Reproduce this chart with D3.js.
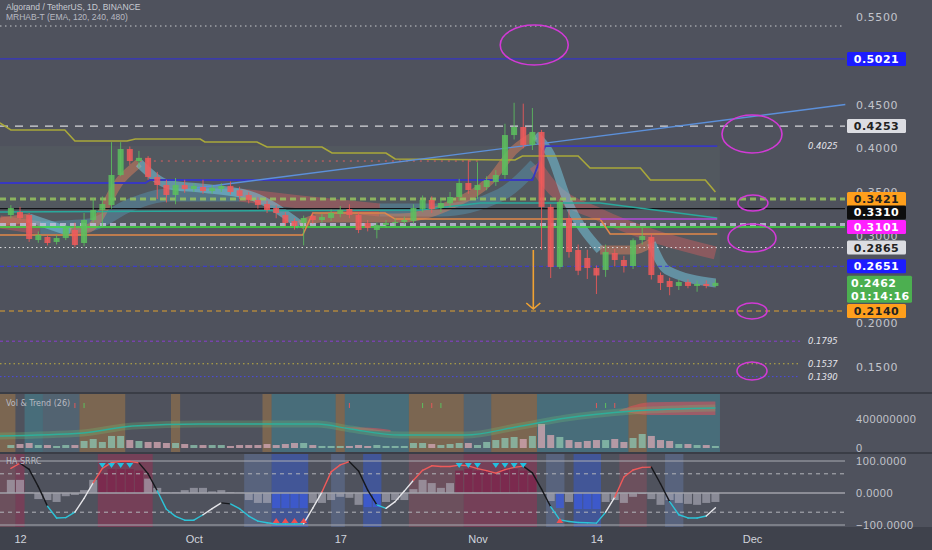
<!DOCTYPE html>
<html><head><meta charset="utf-8">
<script src="https://cdn.jsdelivr.net/npm/d3@7/dist/d3.min.js"></script>
<style>
html,body{margin:0;padding:0;background:#4f525d;overflow:hidden}
svg{display:block;font-family:"DejaVu Sans",sans-serif}
</style></head><body>
<svg id="chart" width="932" height="550"></svg>
<script>
// ---------------- DATA ----------------
const open  = [.3237,.3271,.3237,.2951,.2986,.2929,.2974,.3066,.2917,.318,.3294,.3351,.3694,.3991,.3854,.389,.3671,.358,.3466,.358,.3534,.3557,.3511,.3534,.3569,.352,.3466,.3409,.3363,.3317,.3237,.3169,.3146,.3226,.318,.3203,.3249,.3306,.3237,.3146,.3066,.3123,.3146,.3157,.3169,.3306,.3409,.3317,.3371,.3443,.3603,.3523,.3557,.3614,.3694,.4151,.4243,.4037,.4186,.3329,.2643,.3203,.2837,.2746,.2631,.2609,.2803,.2723,.2654,.2951,.2986,.2551,.2483,.2426,.2471,.2426,.2449,.2426];
const high  = [.335,.333,.326,.305,.301,.301,.312,.315,.326,.343,.345,.407,.407,.402,.397,.391,.373,.364,.366,.364,.36,.364,.358,.36,.362,.356,.35,.344,.34,.335,.327,.32,.323,.326,.325,.33,.334,.336,.327,.318,.315,.318,.32,.322,.336,.346,.345,.343,.35,.365,.387,.384,.368,.375,.428,.452,.451,.446,.421,.336,.342,.33,.29,.284,.266,.29,.285,.277,.297,.309,.302,.258,.252,.25,.25,.249,.249,.25];
const low   = [.320,.318,.293,.292,.289,.290,.295,.287,.288,.315,.31,.331,.368,.381,.378,.364,.342,.338,.336,.349,.35,.348,.348,.35,.347,.342,.337,.331,.326,.32,.311,.307,.289,.314,.315,.317,.321,.32,.303,.305,.297,.309,.311,.313,.314,.327,.326,.327,.333,.34,.348,.342,.352,.357,.365,.41,.40,.398,.284,.2517,.262,.275,.255,.2506,.2334,.253,.265,.258,.262,.29,.25,.238,.232,.238,.24,.236,.24,.241];
const close = [.3317,.3203,.2963,.3009,.2917,.2974,.3089,.2894,.318,.3294,.3363,.3694,.3991,.3854,.389,.3671,.358,.3466,.358,.3534,.3569,.3511,.3546,.3569,.35,.3454,.3409,.3351,.3294,.326,.3146,.3111,.3203,.318,.3214,.326,.3294,.3237,.3066,.3089,.3123,.3146,.3157,.318,.3317,.3409,.3306,.3374,.3443,.3603,.3523,.358,.3637,.3694,.4151,.4243,.4037,.4186,.3329,.2643,.3386,.2814,.26,.2631,.2546,.2814,.2723,.2654,.2949,.2997,.2551,.246,.2414,.2471,.2426,.2449,.2426,.2462];
// volume in millions
const volumeM = [41,55,69,41,41,28,41,41,97,124,83,166,166,110,97,83,83,69,69,55,41,41,41,41,28,41,41,41,55,41,55,69,69,41,28,28,28,28,41,28,41,28,28,28,69,69,55,41,55,69,69,41,83,110,138,152,124,166,331,179,152,110,83,97,110,110,124,83,138,193,166,110,97,55,55,41,41,28];
const oscLine = [77,93,74,20,-41,-78,-77,-60,-17,32,77,95,99,99,94,60,7,-51,-73,-85,-85,-68,-49,-31,-34,-49,-72,-88,-93,-97,-97,-97,-96,-47,3,66,88,98,69,9,-37,-48,-27,6,40,71,85,83,83,87,85,76,70,62,73,80,84,63,12,-43,-84,-89,-92,-93,-94,-60,-13,50,72,80,81,29,-27,-68,-78,-78,-72,-46];
const oscHist = [41,41,2,-19,-22,-28,-10,-6,9,41,60,75,75,75,70,45,16,2,2,9,16,16,5,9,3,1,-22,-31,-31,-47,-47,-47,-47,-31,-31,-22,-12,-15,-37,-44,-44,-28,-22,-22,12,41,31,16,31,70,75,70,70,60,75,75,70,55,-3,-25,-47,-28,-50,-50,-50,-28,-22,-31,-12,-3,-19,-37,-22,-31,-34,-37,-31,-28];

// indicator lines: [candle index, price]
const oliveLine  = [[-1.2,.4289],[0,.4209],[5.9,.4209],[7,.4083],[12.7,.4083],[13.6,.4106],[20.7,.4106],[21.2,.4071],[26.9,.4071],[28,.4014],[34,.4014],[35.1,.3946],[41,.3946],[42,.3877],[55.1,.3866],[55.9,.3911],[62,.3911],[63.3,.3774],[68.8,.3774],[69.9,.3637],[75.9,.3637],[77,.35]];
const navyLine   = [[-1.2,.3603],[14.7,.3603],[15.2,.3637],[57,.3637],[57.9,.3889],[58.4,.4025],[77.2,.4025]];
const tealLine   = [[-1.2,.3271],[44.7,.3294],[51.3,.3374],[64.4,.3374],[77.2,.3203]];
const orangeLine = [[-1.2,.3009],[31.9,.3009],[33,.326],[40.9,.326],[42,.3191],[64.4,.3191],[65.5,.302],[77.2,.302]];
const purpleLine = [[64.4,.3191],[77.2,.3191]];
const redDotLine = [[14.1,.3854],[51.3,.3854]];
const trendLine  = [[20.2,.3546],[91.2,.45]];
const ribbonFast = [[-1.2,.3157],[2,.3203],[6.5,.3043],[8.6,.3089],[12,.3637],[14,.3831],[17.4,.358],[20.7,.3546],[26,.3466],[31.6,.3123],[33.8,.3203],[42.5,.3203],[48,.3351],[52.4,.3637],[55,.398],[57.3,.4151],[59,.3923],[60.8,.3409],[64.4,.2837],[68,.2837],[70,.2917],[71.7,.2609],[77,.246]];
const ribbonSlow = [[-1.2,.3157],[3.2,.3089],[8.6,.3123],[13,.3351],[17.4,.3466],[25,.3466],[31.6,.3386],[40.3,.3294],[46.9,.3294],[53.5,.3466],[57.3,.3809],[58.9,.358],[64.4,.3237],[69.9,.3009],[77,.2803]];
const volMA = [[-1.2,166],[7.9,207],[13.3,303],[20.7,331],[33.5,331],[37.1,262],[42.5,179],[49.7,179],[55.2,290],[60.7,414],[68,510],[77,552]];
const volRedBands = [[[36.5,285,270],[38.5,282,245],[41.5,250,225]],[[66.5,520,515],[70,630,455],[77,640,455]]];

const levelValues = [0.5397,0.5021,0.4253,0.3421,0.3310,0.3128,0.3101,0.2865,0.2651,0.2140,0.1795,0.1537,0.1390];
const tagValues = [0.5021,0.4253,0.3421,0.3310,0.3101,0.2865,0.2651,0.2140];
const noteValues = [0.4025,0.1795,0.1537,0.1390];
const priceTicks = [0.15,0.2,0.3,0.35,0.4,0.45,0.55];
const volTicks = [0,400];
const oscTicks = [-100,0,100];
const timeTicks = [[2022,8,12,"12"],[2022,9,1,"Oct"],[2022,9,17,"17"],[2022,10,1,"Nov"],[2022,10,14,"14"],[2022,11,1,"Dec"]];
const ellipseCenters = [[57.2,0.518],[81,0.4163],[81.1,0.3374],[81,0.2974],[81,0.214],[81,0.1454]];
const arrowPts = [57.1,0.2837,0.2163];
const volBands = [[-1.5,0.5,'o'],[1.5,3.5,'t'],[3.5,7.5,'t2'],[7.5,12.5,'o'],[17.5,18.5,'o'],[27.5,28.5,'o'],[28.5,35.5,'t'],[35.5,36.5,'o'],[36.5,43.5,'t'],[43.5,49.5,'o'],[49.5,52.5,'t2'],[52.5,57.5,'o'],[57.5,67.5,'t'],[67.5,69.5,'o'],[69.5,77.5,'t']];
const oscBands = [[-1.5,0.5,'r2'],[0.5,1.5,'r'],[9.5,15.5,'r'],[25.5,28.5,'b2'],[28.5,32.5,'b'],[35,36.5,'b2'],[38.5,40.5,'b'],[43.5,49.5,'r2'],[49.5,57.5,'r'],[58.5,60.5,'b2'],[61.5,64.5,'b'],[66.5,69.5,'r2'],[71.5,73.5,'b2']];
const downMarks = [10,11,12,13,49,50,51,53,54,55,56];
const upMarks = [29,30,31,32,60];
const volTicksMarks = [[7,'r'],[8,'g'],[37,'r'],[45,'g'],[46,'r'],[47,'g'],[64,'r'],[65,'g'],[66,'r']];

// ---------------- SCALES ----------------
const svg = d3.select('#chart');
const startUTC = Date.UTC(2022,8,11), DAY = 864e5;
const dayAt = i => new Date(startUTC + i*DAY);
const x = d3.scaleUtc().domain([new Date(Date.UTC(2022,8,12)), new Date(Date.UTC(2022,11,1))]).range([20,752]);
const xi = i => x(dayAt(i));
const y = d3.scaleLinear().domain([0.15,0.55]).range([367,17]);
const yV = d3.scaleLinear().domain([0,400]).range([448,419]);
const yO = d3.scaleLinear().domain([-100,100]).range([525,461]);
const PR = 845;

// ---------------- BACKGROUND ----------------
svg.append('rect').attr('width',932).attr('height',550).attr('fill','#4f525d');
svg.append('rect').attr('y',527).attr('width',932).attr('height',23).attr('fill','#3f424c');
const defs = svg.append('defs');
defs.append('clipPath').attr('id','cMain').append('rect').attr('width',PR+1).attr('height',392);
defs.append('clipPath').attr('id','cVol').append('rect').attr('y',394).attr('width',PR+1).attr('height',58);
defs.append('clipPath').attr('id','cOsc').append('rect').attr('y',454).attr('width',PR+1).attr('height',73);

const main = svg.append('g').attr('clip-path','url(#cMain)');
const lineGen = d3.line().x(d=>xi(d[0])).y(d=>y(d[1]));

// cloud zone
main.append('rect').attr('x',xi(-1.5)).attr('width',xi(77.5)-xi(-1.5))
  .attr('y',y(0.4025)).attr('height',y(0.2651)-y(0.4025)).attr('fill','rgba(130,175,130,0.07)');

// ribbons
function drawRibbon(pts, width, upCol, downCol){
  const runs=[]; let cur=null;
  for(let k=0;k<pts.length-1;k++){
    const dir = pts[k+1][1] >= pts[k][1] ? 'up':'down';
    if(!cur || cur.dir!==dir){cur={dir,pts:[pts[k]]};runs.push(cur);}
    cur.pts.push(pts[k+1]);
  }
  const lg = d3.line().x(d=>xi(d[0])).y(d=>y(d[1])).curve(d3.curveMonotoneX);
  main.append('g').selectAll('path').data(runs).join('path')
    .attr('d',r=>lg(r.pts)).attr('fill','none')
    .attr('stroke',r=>r.dir==='up'?upCol:downCol).attr('stroke-width',width)
    .attr('stroke-linejoin','round');
}
drawRibbon(ribbonSlow, 13, 'rgba(90,170,205,0.35)', 'rgba(222,95,95,0.40)');
drawRibbon(ribbonFast, 9, 'rgba(232,130,90,0.45)', 'rgba(120,205,232,0.50)');

// level lines
const levelStyles = [
  {c:'#c9cace',w:1,d:'1.5,3.5'},
  {c:'#3434c4',w:1.2,d:null},
  {c:'#d6d6da',w:1.2,d:'8,7'},
  {c:'rgba(150,195,95,0.85)',w:3,d:'6,4'},
  {c:'#111216',w:1.2,d:null},
  {c:'rgba(190,190,215,0.85)',w:3,d:'6,4'},
  {c:'#3ee03e',w:1.5,d:null},
  {c:'#e0e0e4',w:1,d:'1.5,3'},
  {c:'#3a3ae0',w:1,d:'4,3'},
  {c:'#e0a030',w:1,d:'5,4'},
  {c:'#8a3ed0',w:1,d:'3,3',end:800},
  {c:'#c0b040',w:1,d:'1.5,3',end:800},
  {c:'#4a4ae8',w:1,d:'1.5,2.5',end:800}
];
main.append('g').selectAll('line').data(levelValues).join('line')
  .attr('x1',0).attr('x2',(d,i)=>levelStyles[i].end||PR)
  .attr('y1',d=>y(d)).attr('y2',d=>y(d))
  .attr('stroke',(d,i)=>levelStyles[i].c).attr('stroke-width',(d,i)=>levelStyles[i].w)
  .attr('stroke-dasharray',(d,i)=>levelStyles[i].d);

// indicator lines
function pl(pts,c,w,dash){
  main.append('path').attr('d',lineGen(pts)).attr('fill','none').attr('stroke',c)
    .attr('stroke-width',w).attr('stroke-dasharray',dash||null);
}
pl(tealLine,'#2aa89c',1.4);
pl(orangeLine,'#e2884a',1.5);
pl(purpleLine,'#b04ad8',1.5);
pl(redDotLine,'#e06060',1,'2,5');
pl(navyLine,'#3838c0',1.8);
pl(oliveLine,'#a9a83a',1.6);
pl(trendLine,'#5c90da',1.4);

// candles
const cg = main.append('g');
const candleIdx = d3.range(close.length);
const colOf = i => close[i]>=open[i] ? '#5cbf5e' : '#f05a5a';
cg.selectAll('line').data(candleIdx).join('line')
  .attr('x1',i=>xi(i)).attr('x2',i=>xi(i))
  .attr('y1',i=>y(high[i])).attr('y2',i=>y(low[i]))
  .attr('stroke',colOf).attr('stroke-width',1).attr('opacity',0.85);
cg.selectAll('rect').data(candleIdx).join('rect')
  .attr('x',i=>xi(i)-3).attr('width',6)
  .attr('y',i=>y(Math.max(open[i],close[i])))
  .attr('height',i=>Math.max(1,y(Math.min(open[i],close[i]))-y(Math.max(open[i],close[i]))))
  .attr('fill',colOf).attr('opacity',0.85);

// arrow
const ax = xi(arrowPts[0]), ay1=y(arrowPts[1]), ay2=y(arrowPts[2]);
main.append('path').attr('d',`M${ax},${ay1}V${ay2}M${ax-7},${ay2-6}L${ax},${ay2}L${ax+7},${ay2-6}`)
  .attr('fill','none').attr('stroke','#f0a232').attr('stroke-width',1.6);

// ellipses
const ellSizes=[[34,20],[30,19],[15,8],[24,14],[15,8],[15,9]];
svg.append('g').selectAll('ellipse').data(ellipseCenters).join('ellipse')
  .attr('cx',d=>xi(d[0])).attr('cy',d=>y(d[1]))
  .attr('rx',(d,i)=>ellSizes[i][0]).attr('ry',(d,i)=>ellSizes[i][1])
  .attr('fill','none').attr('stroke','#d23ad6').attr('stroke-width',1.6);

// notes
svg.append('g').selectAll('text').data(noteValues).join('text')
  .attr('x',808).attr('y',d=>y(d)+3).text(d=>d.toFixed(4))
  .attr('font-size',8.5).attr('font-style','italic').attr('fill','#e4e4ea');

// header
svg.append('text').attr('x',6).attr('y',10).text('Algorand / TetherUS, 1D, BINANCE')
  .attr('font-family','Liberation Sans, Arial, sans-serif').attr('font-size',8.5).attr('fill','#c8cad2');
svg.append('text').attr('x',6).attr('y',20).text('MRHAB-T (EMA, 120, 240, 480)')
  .attr('font-family','Liberation Sans, Arial, sans-serif').attr('font-size',8.5).attr('fill','#b8bac2');

// price axis
const pa = svg.append('g').attr('transform','translate(853,0)')
  .call(d3.axisRight(y).tickValues(priceTicks).tickFormat(d3.format('.4f')).tickSize(0).tickPadding(3));
pa.select('.domain').remove();
pa.selectAll('text').attr('fill','#c2c4cb').attr('font-size',11).attr('font-family','DejaVu Sans').attr('letter-spacing',0.6);

// tag boxes
const tagStyles=[['#1c1cff','#fff'],['#dcdde2','#222'],['#ff9f1c','#222'],['#0d0d0d','#fff'],['#ff20ff','#fff'],['#dcdde2','#222'],['#1c1cff','#fff'],['#ff9f1c','#222']];
const tags = tagValues.map((v,i)=>({v,cy:y(v),bg:tagStyles[i][0],fg:tagStyles[i][1]})).sort((a,b)=>a.cy-b.cy);
for(let k=1;k<tags.length;k++){ if(tags[k].cy-tags[k-1].cy<13.5) tags[k].cy=tags[k-1].cy+13.5; }
const tg = svg.append('g');
tags.forEach(t=>{
  tg.append('rect').attr('x',847).attr('y',t.cy-7).attr('width',59).attr('height',14).attr('rx',1.5).attr('fill',t.bg);
  tg.append('text').attr('x',876.5).attr('y',t.cy+4).attr('text-anchor','middle').text(t.v.toFixed(4))
    .attr('font-size',11).attr('font-weight','bold').attr('fill',t.fg).attr('letter-spacing',0.5);
});
const last = close[close.length-1], ly=y(last);
tg.append('rect').attr('x',847).attr('y',ly-7).attr('width',65).attr('height',27).attr('rx',1.5).attr('fill','#4caf50');
tg.append('text').attr('x',851).attr('y',ly+4).text(last.toFixed(4)).attr('font-size',11).attr('font-weight','bold').attr('fill','#fff').attr('letter-spacing',0.5);
tg.append('text').attr('x',851).attr('y',ly+17).text('01:14:16').attr('font-size',11).attr('font-weight','bold').attr('fill','#fff').attr('letter-spacing',0.5);

// ---------------- VOLUME PANE ----------------
svg.append('rect').attr('y',392).attr('width',932).attr('height',2).attr('fill','#3a3d46');
const vol = svg.append('g').attr('clip-path','url(#cVol)');
const vbCol={o:'rgba(205,140,60,0.35)',t:'rgba(60,160,178,0.35)',t2:'rgba(95,170,195,0.2)'};
vol.selectAll('rect.band').data(volBands).join('rect').attr('class','band')
  .attr('x',d=>xi(d[0])).attr('width',d=>xi(d[1])-xi(d[0])).attr('y',394).attr('height',58)
  .attr('fill',d=>vbCol[d[2]]);
vol.selectAll('rect.vb').data(candleIdx).join('rect').attr('class','vb')
  .attr('x',i=>xi(i)-3.5).attr('width',7).attr('y',i=>yV(volumeM[i])).attr('height',i=>yV(0)-yV(volumeM[i]))
  .attr('fill',i=>close[i]>=open[i]?'rgba(140,192,172,0.8)':'rgba(208,165,176,0.8)');
const areaV = d3.area().x(d=>xi(d[0])).y0(d=>yV(d[2])).y1(d=>yV(d[1])).curve(d3.curveMonotoneX);
vol.selectAll('path.rb').data(volRedBands).join('path').attr('class','rb').attr('d',areaV).attr('fill','rgba(225,80,90,0.55)');
const lineV = d3.line().x(d=>xi(d[0])).y(d=>yV(d[1])).curve(d3.curveMonotoneX);
vol.append('path').attr('d',lineV(volMA)).attr('fill','none').attr('stroke','rgba(110,205,120,0.25)').attr('stroke-width',7);
vol.append('path').attr('d',lineV(volMA)).attr('fill','none').attr('stroke','#2fae9a').attr('stroke-width',1.4);
vol.selectAll('line.tk').data(volTicksMarks).join('line').attr('class','tk')
  .attr('x1',d=>xi(d[0])).attr('x2',d=>xi(d[0])).attr('y1',403).attr('y2',408)
  .attr('stroke',d=>d[1]==='r'?'#e05a5a':'#5cbf5e').attr('stroke-width',1);
svg.append('text').attr('x',6).attr('y',406).text('Vol & Trend (26)').attr('font-size',8).attr('fill','#b8bac2');
const va = svg.append('g').attr('transform','translate(853,0)')
  .call(d3.axisRight(yV).tickValues(volTicks).tickFormat(d=>d3.format('d')(d*1e6)).tickSize(0).tickPadding(3));
va.select('.domain').remove();
va.selectAll('text').attr('fill','#c2c4cb').attr('font-size',11).attr('letter-spacing',0.6);

// ---------------- OSC PANE ----------------
svg.append('rect').attr('y',452).attr('width',932).attr('height',2).attr('fill','#3a3d46');
const osc = svg.append('g').attr('clip-path','url(#cOsc)');
const obCol={r:'rgba(172,40,82,0.42)',r2:'rgba(195,75,95,0.25)',b:'rgba(50,90,222,0.45)',b2:'rgba(115,150,222,0.25)'};
osc.selectAll('rect.band').data(oscBands).join('rect').attr('class','band')
  .attr('x',d=>xi(d[0])).attr('width',d=>xi(d[1])-xi(d[0])).attr('y',454).attr('height',73)
  .attr('fill',d=>obCol[d[2]]);
osc.selectAll('rect.hb').data(candleIdx).join('rect').attr('class','hb')
  .attr('x',i=>xi(i)-4).attr('width',8)
  .attr('y',i=>Math.min(yO(0),yO(oscHist[i]))).attr('height',i=>Math.abs(yO(oscHist[i])-yO(0)))
  .attr('fill',i=>oscHist[i]>50?'rgba(125,35,75,0.75)':(oscHist[i]<-40?'rgba(60,90,215,0.8)':'rgba(178,178,190,0.6)'));
[[100,'#a9abb3',1,null],[-100,'#a9abb3',1,null],[0,'#a0a2aa',1.5,null],[60,'#b2b4ba',1,'4,4'],[-60,'#b2b4ba',1,'4,4']].forEach(h=>{
  osc.append('line').attr('x1',0).attr('x2',PR).attr('y1',yO(h[0])).attr('y2',yO(h[0]))
    .attr('stroke',h[1]).attr('stroke-width',h[2]).attr('stroke-dasharray',h[3]);
});
function segColor(a,b){
  if(b>=a){ if(b>40) return '#f05a5a'; if(b<-50) return '#2cc4d8'; return '#e6e6ea'; }
  if(a>55 && a-b<15) return '#f05a5a';
  if(b<-45) return '#2cc4d8';
  return '#17181c';
}
const segs = d3.range(oscLine.length-1);
osc.selectAll('line.ol').data(segs).join('line').attr('class','ol')
  .attr('x1',k=>xi(k)).attr('x2',k=>xi(k+1)).attr('y1',k=>yO(oscLine[k])).attr('y2',k=>yO(oscLine[k+1]))
  .attr('stroke',k=>segColor(oscLine[k],oscLine[k+1])).attr('stroke-width',1.4).attr('stroke-linecap','round');
osc.selectAll('path.dm').data(downMarks).join('path').attr('class','dm')
  .attr('d',i=>`M${xi(i)-3.5},${yO(100)+2}L${xi(i)+3.5},${yO(100)+2}L${xi(i)},${yO(100)+7}Z`).attr('fill','#22c0e0');
osc.selectAll('path.um').data(upMarks).join('path').attr('class','um')
  .attr('d',i=>`M${xi(i)-3.5},${yO(-100)-2}L${xi(i)+3.5},${yO(-100)-2}L${xi(i)},${yO(-100)-7}Z`).attr('fill','#f05050');
svg.append('text').attr('x',6).attr('y',464).text('HA SRRC').attr('font-size',8).attr('fill','#b8bac2');
const oa = svg.append('g').attr('transform','translate(853,0)')
  .call(d3.axisRight(yO).tickValues(oscTicks).tickFormat(d3.format('.4f')).tickSize(0).tickPadding(3));
oa.select('.domain').remove();
oa.selectAll('text').attr('fill','#c2c4cb').attr('font-size',11).attr('letter-spacing',0.6);

// ---------------- TIME AXIS ----------------
const tv = timeTicks.map(t=>new Date(Date.UTC(t[0],t[1],t[2])));
const labels = new Map(tv.map((d,i)=>[+d,timeTicks[i][3]]));
const ta = svg.append('g').attr('transform','translate(0,530)')
  .call(d3.axisBottom(x).tickValues(tv).tickFormat(d=>labels.get(+d)).tickSize(0).tickPadding(5));
ta.select('.domain').remove();
ta.selectAll('text').attr('fill','#d1d4dc').attr('font-size',11);
</script>
</body></html>
